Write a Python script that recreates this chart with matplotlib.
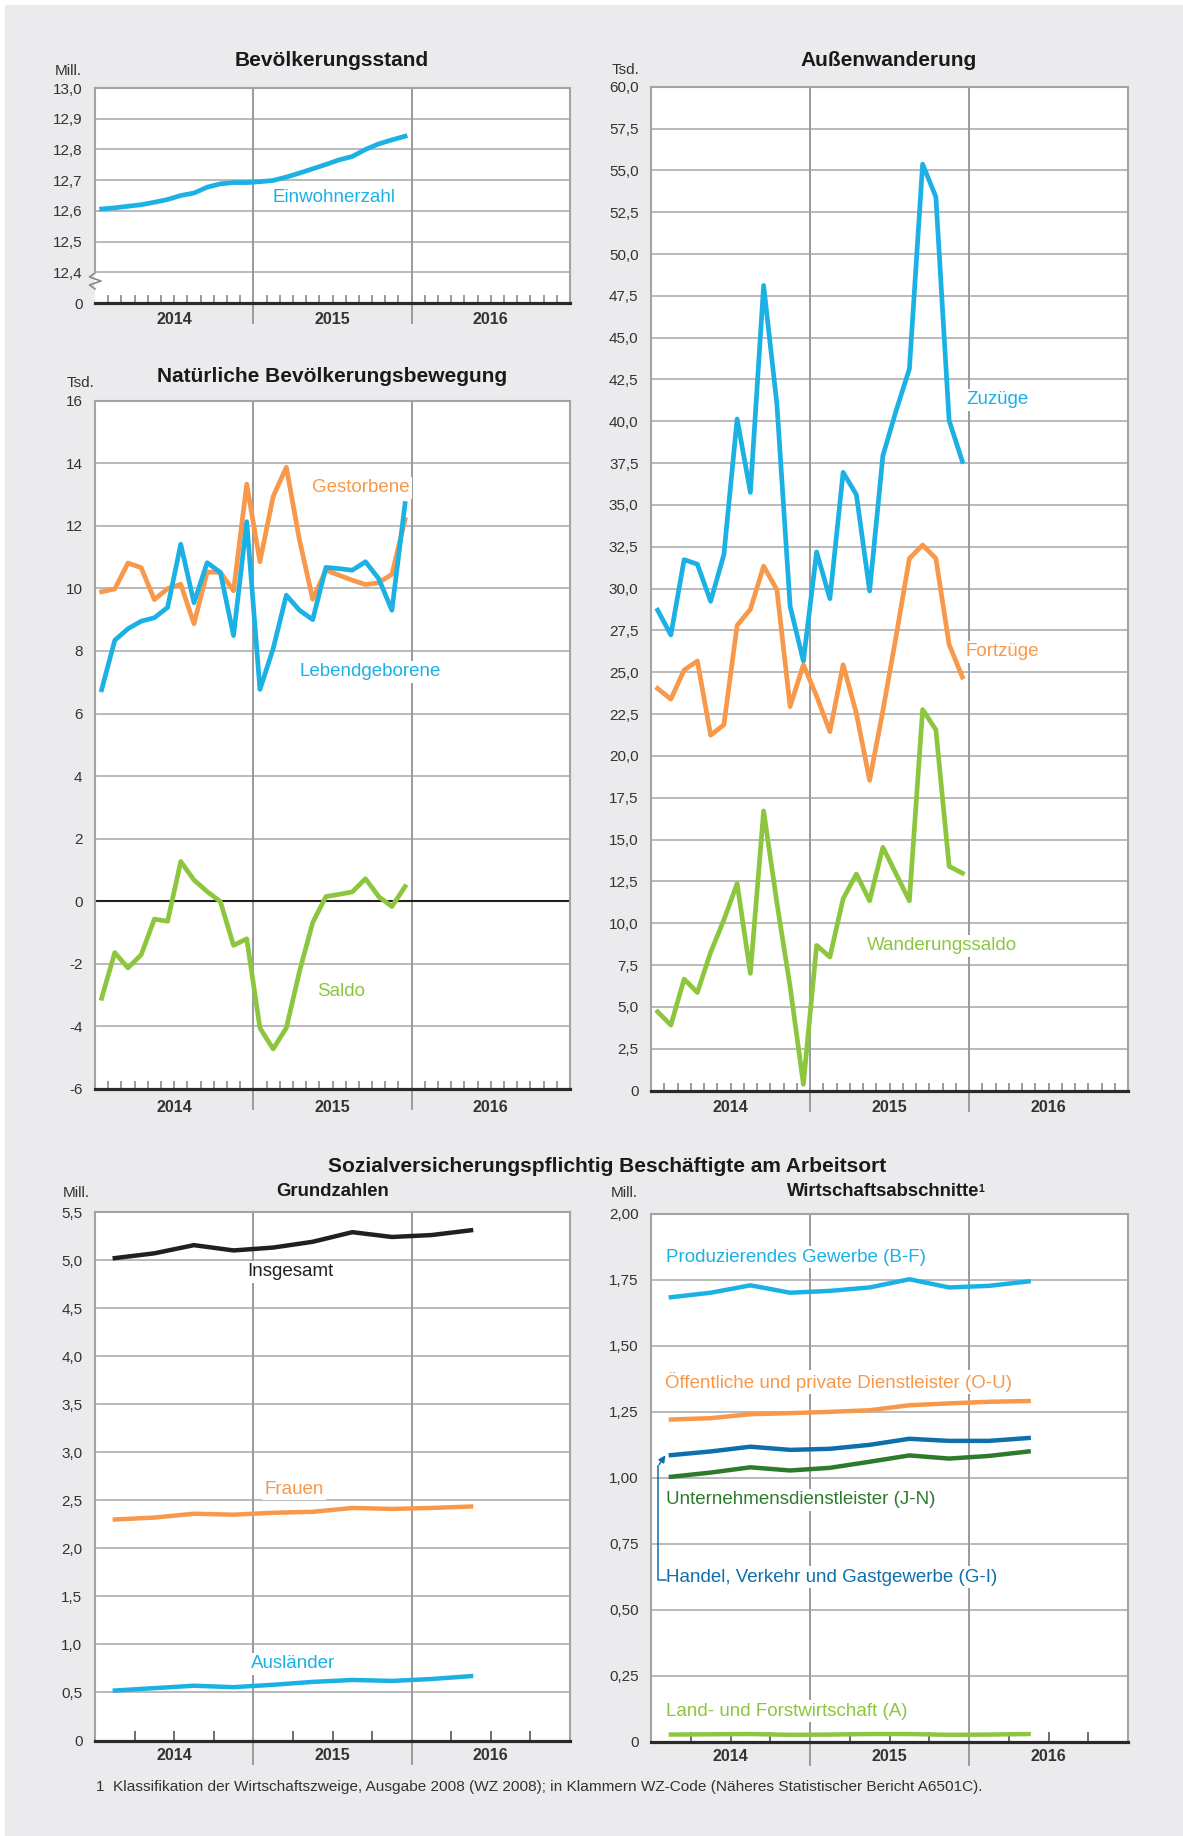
# Recreating the population / migration / employment chart panel set
import matplotlib
matplotlib.use("Agg")
import matplotlib.pyplot as plt
import numpy as np
from matplotlib.patches import Rectangle

plt.rcParams['font.family'] = ['Liberation Sans', 'DejaVu Sans']

# Data
years = ["2014", "2015", "2016"]

# Bevölkerungsstand, monthly 2014-2015 (Mill.)
einwohner = [12.606, 12.610, 12.615, 12.620, 12.628, 12.637, 12.650, 12.658,
             12.677, 12.688, 12.692, 12.692, 12.695, 12.699, 12.710, 12.723,
             12.737, 12.751, 12.766, 12.777, 12.800, 12.818, 12.831, 12.843]

# Natürliche Bevölkerungsbewegung, monthly (Tsd.)
gestorbene = [9.89, 9.98, 10.81, 10.66, 9.64, 9.99, 10.13, 8.87, 10.52, 10.51, 9.92, 13.33,
              10.85, 12.93, 13.87, 11.54, 9.65, 10.58, 10.42, 10.26, 10.12, 10.18, 10.45, 12.20]
lebendgeborene = [6.76, 8.34, 8.71, 8.95, 9.06, 9.39, 11.41, 9.54, 10.82, 10.51, 8.49, 12.13,
                  6.77, 8.07, 9.78, 9.30, 9.00, 10.67, 10.63, 10.58, 10.85, 10.31, 9.30, 12.71]
saldo = [-3.10, -1.64, -2.13, -1.71, -0.57, -0.64, 1.27, 0.68, 0.31, -0.01, -1.41, -1.20,
         -4.05, -4.72, -4.05, -2.24, -0.68, 0.15, 0.22, 0.30, 0.72, 0.15, -0.17, 0.47]

# Außenwanderung, monthly (Tsd.)
zuzuege = [28.71, 27.23, 31.73, 31.46, 29.24, 32.03, 40.14, 35.75, 48.12, 41.04, 28.94, 25.67,
           32.19, 29.40, 36.95, 35.61, 29.86, 37.94, 40.64, 43.13, 55.37, 53.41, 40.04, 37.60]
fortzuege = [24.03, 23.39, 25.13, 25.67, 21.24, 21.86, 27.80, 28.76, 31.34, 29.93, 22.95, 25.45,
             23.57, 21.45, 25.45, 22.54, 18.54, 22.70, 27.16, 31.80, 32.60, 31.80, 26.66, 24.71]
wanderungssaldo = [4.71, 3.91, 6.66, 5.86, 8.26, 10.20, 12.37, 7.00, 16.71, 11.23, 6.20, 0.37,
                   8.67, 7.98, 11.46, 12.94, 11.34, 14.54, 12.94, 11.34, 22.77, 21.56, 13.40, 12.99]

# Beschäftigte, quarterly (Mill.)
insgesamt = [5.02, 5.07, 5.155, 5.10, 5.13, 5.19, 5.29, 5.24, 5.26, 5.31]
frauen = [2.30, 2.32, 2.36, 2.35, 2.37, 2.38, 2.42, 2.41, 2.42, 2.435]
auslaender = [0.52, 0.545, 0.57, 0.555, 0.58, 0.61, 0.63, 0.62, 0.64, 0.67]

produzierendes = [1.683, 1.700, 1.728, 1.700, 1.707, 1.720, 1.751, 1.720, 1.726, 1.743]
oeffentliche = [1.220, 1.225, 1.240, 1.244, 1.249, 1.255, 1.274, 1.281, 1.287, 1.290]
handel = [1.085, 1.099, 1.117, 1.105, 1.109, 1.124, 1.147, 1.139, 1.139, 1.150]
unternehmens = [1.003, 1.019, 1.039, 1.027, 1.037, 1.060, 1.084, 1.072, 1.082, 1.099]
land = [0.027, 0.028, 0.029, 0.026, 0.027, 0.029, 0.029, 0.026, 0.027, 0.029]

# Colours
BLUE = "#1bb1e4"
ORANGE = "#f7984a"
GREEN = "#8cc63f"
BLACK = "#231f20"
DARKBLUE = "#0f6fab"
DARKGREEN = "#2d7a2d"
GRID = "#b4b4b4"
FRAME = "#a3a3a3"
TXT = "#333333"
BG = "#ebebed"

W, H = 1183, 1836
fig = plt.figure(figsize=(W / 100, H / 100), dpi=100, facecolor="white")
fig.patches.append(Rectangle((5 / W, 0), 1, 1 - 5 / H, transform=fig.transFigure,
                             color=BG, zorder=-10))


def box(left, top, right, bottom):
    return [left / W, 1 - bottom / H, (right - left) / W, (bottom - top) / H]


def fxy(x, y):
    return x / W, 1 - y / H


def fmt(v, dec):
    if abs(v) < 1e-9:
        return "0"
    return ("%." + str(dec) + "f") % v


def make_panel(rect, ymin, ymax, ticks, labels, steps, per_year, below, year_off):
    ax = fig.add_axes(box(*rect))
    ax.set_facecolor("white")
    ax.set_xlim(0, steps)
    ax.set_ylim(ymin, ymax)
    ax.set_yticks(ticks)
    ax.set_yticklabels(labels)
    ax.tick_params(axis="y", length=0, pad=9, labelsize=11, labelcolor=TXT)
    ax.set_xticks([i for i in range(1, steps) if i % per_year])
    ax.set_xticklabels([])
    ax.tick_params(axis="x", direction="in", length=6, width=1.2, color="#8a8a8a")
    for t in ticks:
        if ymin < t < ymax:
            ax.axhline(t, color=GRID, lw=1.3, zorder=1)
    for s in ["left", "right", "top"]:
        ax.spines[s].set_color(FRAME)
        ax.spines[s].set_linewidth(1.5)
    ax.spines["bottom"].set_color("#2a2a2a")
    ax.spines["bottom"].set_linewidth(2.3)
    h = rect[3] - rect[1]
    for k in (1, 2):
        ax.axvline(k * per_year, ymin=-below / h, ymax=1, clip_on=False,
                   color="#9a9a9a", lw=1.4, zorder=2)
    for k, yr in enumerate(years):
        ax.text((k + 0.5) * per_year, -year_off / h, yr, transform=ax.get_xaxis_transform(),
                ha="center", va="center", fontsize=11.5, fontweight="bold", color=TXT)
    return ax


def label(ax, x, y, s, color, ha="center", size=13.5):
    ax.text(x / W, 1 - y / H, s, transform=fig.transFigure, ha=ha, va="center",
            fontsize=size, color=color, zorder=3,
            bbox=dict(fc="white", ec="none", pad=1.5))


def title(x, y, s, size=15):
    return fig.text(x / W, 1 - y / H, s, ha="center", va="center", fontsize=size,
                    fontweight="bold", color="#1a1a1a")


def unit(x, y, s):
    fig.text(x / W, 1 - y / H, s, ha="left", va="center", fontsize=11, color=TXT)


months = np.arange(len(einwohner)) + 0.5
quarters = np.arange(len(insgesamt)) + 0.5

# Panel 1: Bevölkerungsstand (broken axis, bottom shows 0)
t1 = [12.3, 12.4, 12.5, 12.6, 12.7, 12.8, 12.9, 13.0]
l1 = ["0"] + [fmt(v, 1).replace(".", ",") for v in t1[1:]]
ax1 = make_panel((95, 88, 570, 303), 12.3, 13.0, t1, l1, 36, 12, 20, 16)
ax1.spines["left"].set_bounds(12.4, 13.0)
zx = [95, 89.5, 101, 89.5, 95]
zy = [273, 277, 281, 285, 289]
ax1.plot([x / W for x in zx], [1 - y / H for y in zy], transform=fig.transFigure,
         color="#8a8a8a", lw=1.2, clip_on=False)
ax1.plot(months, einwohner, color=BLUE, lw=3.4, zorder=4)
title(332, 61, "Bevölkerungsstand")
unit(55, 71, "Mill.")
label(ax1, 334, 197, "Einwohnerzahl", BLUE)

# Panel 2: Natürliche Bevölkerungsbewegung
t2 = list(range(-6, 17, 2))
ax2 = make_panel((95, 400.6, 570, 1089), -6, 16, t2, [str(v) for v in t2], 36, 12, 20, 18)
ax2.axhline(0, color=BLACK, lw=1.5, zorder=2)
ax2.plot(months, gestorbene, color=ORANGE, lw=3.4, zorder=4)
ax2.plot(months, lebendgeborene, color=BLUE, lw=3.4, zorder=5)
ax2.plot(months, saldo, color=GREEN, lw=3.4, zorder=4)
title(332, 376, "Natürliche Bevölkerungsbewegung")
unit(67, 383, "Tsd.")
label(ax2, 361, 488, "Gestorbene", ORANGE)
label(ax2, 370, 672, "Lebendgeborene", BLUE)
label(ax2, 341, 991, "Saldo", GREEN)

# Panel 3: Außenwanderung
t3 = list(np.arange(0, 60.1, 2.5))
l3 = [fmt(v, 1).replace(".", ",") for v in t3]
ax3 = make_panel((651, 86.7, 1128, 1090.5), 0, 60, t3, l3, 36, 12, 20, 17)
ax3.plot(months, zuzuege, color=BLUE, lw=3.4, zorder=4)
ax3.plot(months, fortzuege, color=ORANGE, lw=3.4, zorder=4)
ax3.plot(months, wanderungssaldo, color=GREEN, lw=3.4, zorder=4)
title(889, 61, "Außenwanderung")
unit(612, 70, "Tsd.")
label(ax3, 966, 400, "Zuzüge", BLUE, ha="left")
label(ax3, 966, 652, "Fortzüge", ORANGE, ha="left")
label(ax3, 942, 946, "Wanderungssaldo", GREEN)

# Panel 4: Grundzahlen
t4 = list(np.arange(0, 5.51, 0.5))
l4 = [fmt(v, 1).replace(".", ",") for v in t4]
ax4 = make_panel((95, 1212, 570, 1740.5), 0, 5.5, t4, l4, 12, 4, 23, 15)
ax4.tick_params(axis="x", color="#555555", length=7)
ax4.plot(quarters, insgesamt, color=BLACK, lw=3.2, zorder=4)
ax4.plot(quarters, frauen, color=ORANGE, lw=3.2, zorder=4)
ax4.plot(quarters, auslaender, color=BLUE, lw=3.2, zorder=4)
unit(63, 1193, "Mill.")
title(333, 1192, "Grundzahlen", size=13.3)
label(ax4, 290, 1272, "Insgesamt", BLACK)
label(ax4, 294, 1489, "Frauen", ORANGE)
label(ax4, 293, 1664, "Ausländer", BLUE)

# Panel 5: Wirtschaftsabschnitte
t5 = list(np.arange(0, 2.01, 0.25))
l5 = [fmt(v, 2).replace(".", ",") for v in t5]
ax5 = make_panel((651, 1213.5, 1128, 1741.7), 0, 2.0, t5, l5, 12, 4, 23, 15)
ax5.tick_params(axis="x", color="#555555", length=7)
ax5.plot(quarters, produzierendes, color=BLUE, lw=3.2, zorder=4)
ax5.plot(quarters, oeffentliche, color=ORANGE, lw=3.2, zorder=4)
ax5.plot(quarters, handel, color=DARKBLUE, lw=3.2, zorder=4)
ax5.plot(quarters, unternehmens, color=DARKGREEN, lw=3.2, zorder=4)
ax5.plot(quarters, land, color=GREEN, lw=3.2, zorder=4)
unit(611, 1193, "Mill.")
sub = title(883, 1192, "Wirtschaftsabschnitte", size=13.3)
sup = fig.text(0.5, 0.5, "1", fontsize=7.5, fontweight="bold", color="#1a1a1a",
               ha="left", va="top")
label(ax5, 666, 1257, "Produzierendes Gewerbe (B-F)", BLUE, ha="left")
label(ax5, 665, 1382, "Öffentliche und private Dienstleister (O-U)", ORANGE, ha="left")
label(ax5, 666, 1500, "Unternehmensdienstleister (J-N)", DARKGREEN, ha="left")
label(ax5, 666, 1577, "Handel, Verkehr und Gastgewerbe (G-I)", DARKBLUE, ha="left")
label(ax5, 666, 1711, "Land- und Forstwirtschaft (A)", GREEN, ha="left")

# Pointer from the Handel label up to its line
ax5.plot([x / W for x in (666, 657.5, 657.5)], [1 - y / H for y in (1580, 1580, 1466)],
         transform=fig.transFigure, color=DARKBLUE, lw=1.1, clip_on=False, zorder=5)
ax5.annotate("", xy=fxy(667, 1453), xytext=fxy(657.5, 1467),
             xycoords="figure fraction", textcoords="figure fraction",
             arrowprops=dict(arrowstyle="-|>", color=DARKBLUE, lw=1.1, mutation_scale=10))

# Common title and footnote
title(607, 1167, "Sozialversicherungspflichtig Beschäftigte am Arbeitsort", size=15)
fig.text(96 / W, 1 - 1787 / H,
         "1  Klassifikation der Wirtschaftszweige, Ausgabe 2008 (WZ 2008); in Klammern WZ-Code "
         "(Näheres Statistischer Bericht A6501C).",
         ha="left", va="center", fontsize=11.1, color=TXT)

# superscript 1 after the subtitle
fig.canvas.draw()
bb = sub.get_window_extent()
sup.set_position((bb.x1 / W - 1 / W, bb.y1 / H - 1 / H))

fig.savefig("out.png", dpi=100, facecolor=fig.get_facecolor())
